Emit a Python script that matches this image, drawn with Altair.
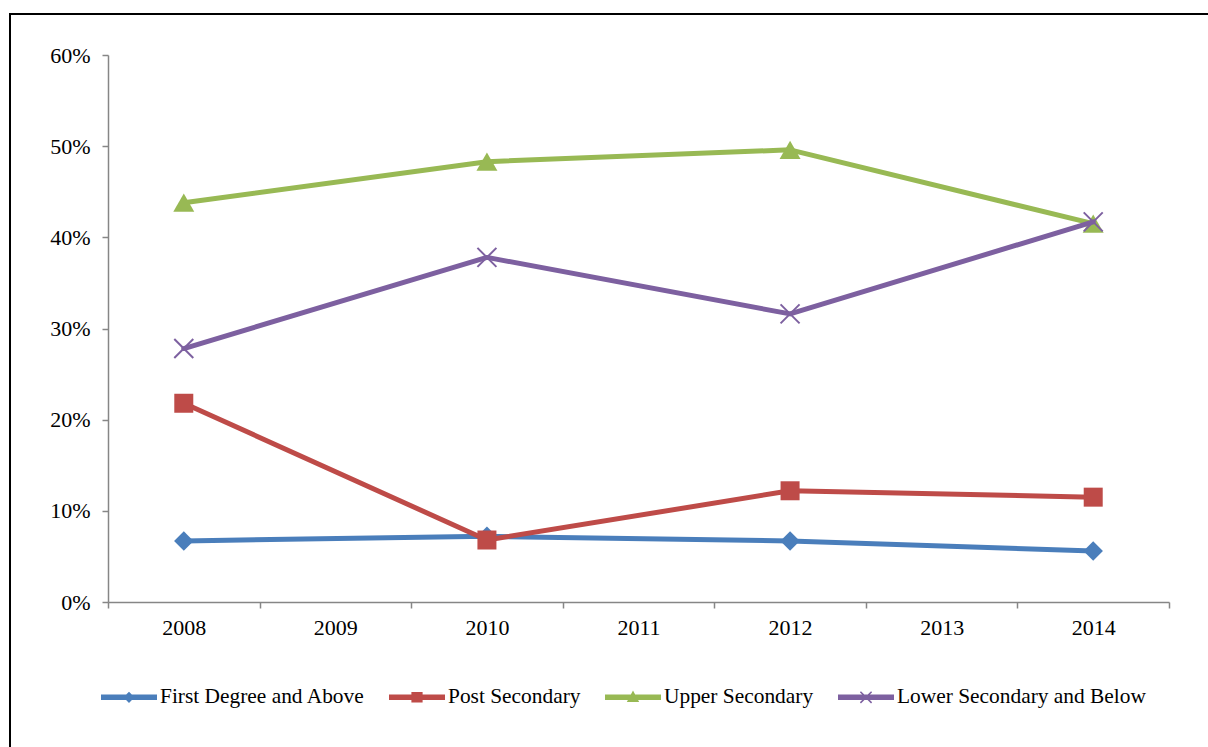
import altair as alt
import pandas as pd

# ---- data ----
years = ["2008", "2009", "2010", "2011", "2012", "2013", "2014"]
data_years = ["2008", "2010", "2012", "2014"]
series = ["First Degree and Above", "Post Secondary", "Upper Secondary",
          "Lower Secondary and Below"]
first_degree = [0.067, 0.072, 0.067, 0.056]
post_secondary = [0.218, 0.068, 0.122, 0.115]
upper_secondary = [0.438, 0.483, 0.496, 0.415]
lower_secondary = [0.278, 0.378, 0.316, 0.417]
y_ticks = [0, 0.1, 0.2, 0.3, 0.4, 0.5, 0.6]

colors = ["#4A7EBB", "#BE4B48", "#98B954", "#7D60A0"]

values = [first_degree, post_secondary, upper_secondary, lower_secondary]
rows = []
for s, vals in zip(series, values):
    for yr, v in zip(data_years, vals):
        rows.append({"series": s, "year": yr, "value": v})
df = pd.DataFrame(rows)

FONT = "Liberation Serif"
FS = 22
W, H = 1061, 547

x_enc = alt.X("year:O", scale=alt.Scale(type="band", domain=years, paddingInner=0, paddingOuter=0),
              axis=alt.Axis(title=None, tickBand="extent", labelAngle=0, labelFont=FONT,
                            labelFontSize=FS, labelColor="black", labelPadding=9,
                            domainColor="#868686", tickColor="#868686", domainWidth=1.5,
                            tickWidth=1.5, tickSize=6, grid=False))
y_enc = alt.Y("value:Q", scale=alt.Scale(domain=[0, 0.6], nice=False),
              axis=alt.Axis(title=None, values=y_ticks, format=".0%", labelFont=FONT,
                            labelFontSize=FS, labelColor="black", labelPadding=12,
                            domainColor="#868686", tickColor="#868686", domainWidth=1.5,
                            tickWidth=1.5, tickSize=6, grid=False))

marker_specs = [
    dict(shape="diamond", size=380, filled=True, strokeWidth=0),
    dict(shape="square", size=361, filled=True, strokeWidth=0),
    dict(shape="triangle-up", size=440, filled=True, strokeWidth=0),
    dict(shape="M-1,-1L1,1M-1,1L1,-1", size=361, filled=False, strokeWidth=2),
]

layers = []
# outer frame (decoration)
frame = alt.Chart(alt.Data(values=[{"a": 1}])).mark_rect(
    fillOpacity=0, stroke="black", strokeWidth=2
).encode(x=alt.value(-98), x2=alt.value(W + 80), y=alt.value(-41), y2=alt.value(H + 220))
layers.append(frame)

for s, c, m in zip(series, colors, marker_specs):
    line = alt.Chart().mark_line(color=c, strokeWidth=5, strokeJoin="round",
                                 strokeCap="round").encode(
        x=x_enc, y=y_enc).transform_filter(alt.datum.series == s)
    pts = alt.Chart().mark_point(color=c, opacity=1, **m).encode(
        x=x_enc, y=y_enc).transform_filter(alt.datum.series == s)
    layers.append(line)
    layers.append(pts)

# legend symbols: line + marker (unit coords, scaled by sqrt(size)/2)
bar = "M-1,-0.1L1,-0.1L1,0.1L-1,0.1Z"
legend_paths = [
    bar + "M0,-0.2L0.2,0L0,0.2L-0.2,0Z",
    bar + "M-0.2,-0.19L0.2,-0.19L0.2,0.19L-0.2,0.19Z",
    bar + "M0,-0.24L0.22,0.17L-0.22,0.17Z",
    bar + "M-0.22,-0.18L-0.18,-0.22L0.22,0.18L0.18,0.22Z"
          "M-0.22,0.18L0.18,-0.22L0.22,-0.18L-0.18,0.22Z",
]
leg = alt.Legend(title=None, orient="none", legendX=-7, legendY=614, direction="horizontal",
                 symbolSize=3136, labelFont=FONT, labelFontSize=21.4, labelColor="black",
                 labelOffset=3, columnPadding=24, symbolStrokeWidth=0, padding=0,
                 symbolOpacity=1, labelLimit=400)
legend_layer = alt.Chart().mark_point(filled=True, opacity=1, strokeWidth=0).encode(
    shape=alt.Shape("series:N", scale=alt.Scale(domain=series, range=legend_paths), legend=leg),
    color=alt.Color("series:N", scale=alt.Scale(domain=series, range=colors), legend=leg),
).transform_filter("false")
layers.append(legend_layer)

chart = alt.layer(*layers, data=df).properties(
    width=W, height=H,
    padding={"left": 108, "top": 55, "right": 39, "bottom": 145},
    autosize=alt.AutoSizeParams(type="none"),
).configure_view(stroke=None)

chart.save("out.html", embed_options={"renderer": "svg", "actions": False})
